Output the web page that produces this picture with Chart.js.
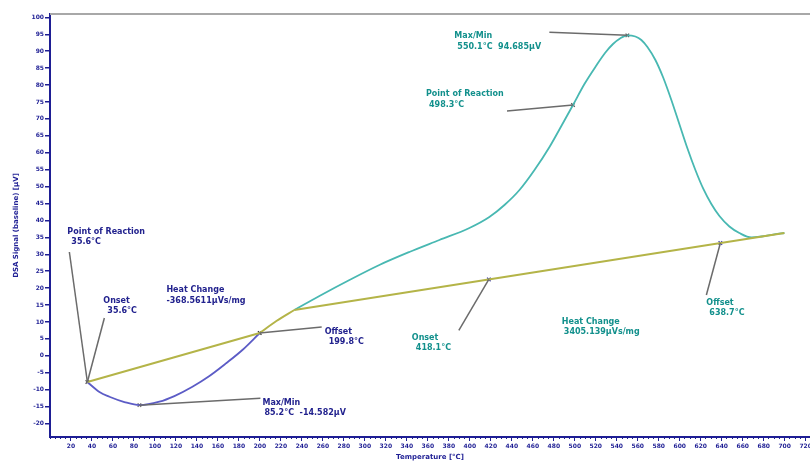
<!DOCTYPE html>
<html>
<head>
<meta charset="utf-8">
<script src="https://cdn.jsdelivr.net/npm/chart.js@4.4.1/dist/chart.umd.min.js"></script>
<style>
  html, body { margin: 0; padding: 0; background: #fff; overflow: hidden; width: 810px; height: 461px; }
  #wrap { position: absolute; left: 0; top: 0; width: 840px; height: 461px; }
</style>
</head>
<body>
<div id="wrap"><canvas id="c" width="840" height="461"></canvas></div>
<script>
// DSA run: temperature in °C, signal (baseline corrected) in µV

// endothermic dip (blue)
const blueT = [35.6, 47.1, 56.6, 70.9, 85.2, 104.2, 118.5, 135.7, 151.9, 167.8, 183.3, 199.8];
const blueV = [-7.75, -10.7, -12.1, -13.66, -14.582, -13.57, -11.9, -9.14, -5.97, -2.22, 1.71, 6.73];

// short bridge between the two events (olive)
const bridgeT = [199.8, 215.7, 232.8];
const bridgeV = [6.73, 10.28, 13.53];

// exothermic peak (teal)
const tealT = [232.8, 256.7, 285.3, 313.8, 342.4, 371.0, 399.6, 418.6, 433.0, 447.3, 461.6, 475.9,
               487.2, 498.3, 509.2, 520.2, 528.8, 536.4, 543.1, 550.1, 557.7, 563.4, 569.2, 576.8,
               584.4, 592.0, 599.6, 607.2, 614.9, 622.5, 630.1, 637.8, 647.3, 656.8, 668.3, 677.8,
               690.2, 699.7];
const tealV = [13.53, 17.67, 22.39, 26.83, 30.67, 34.21, 37.76, 41.01, 44.56, 48.99, 54.90, 61.70,
               67.90, 74.1, 80.31, 85.63, 89.48, 92.13, 93.76, 94.685, 94.35, 93.32, 91.25, 87.41,
               82.09, 75.59, 68.49, 61.40, 54.90, 49.29, 44.85, 41.31, 38.20, 36.28, 34.95, 35.25,
               35.9, 36.28];

// integration baselines
const base1T = [35.6, 199.8];
const base1V = [-7.75, 6.73];
const base2T = [232.8, 699.7];
const base2V = [13.53, 36.28];

// evaluated points: onset 1, min, offset 1, onset 2, point of reaction 2, max, offset 2
const markT = [35.6, 85.2, 199.8, 418.1, 498.3, 550.1, 638.7];
const markV = [-7.75, -14.582, 6.73, 22.56, 74.1, 94.685, 33.31];

// integrated heat changes (µVs/mg)
const heatChange = ['-368.5611', '3405.139'];

// axis ticks
const xTicks = [20, 40, 60, 80, 100, 120, 140, 160, 180, 200, 220, 240, 260, 280, 300, 320, 340, 360,
                380, 400, 420, 440, 460, 480, 500, 520, 540, 560, 580, 600, 620, 640, 660, 680, 700, 720];
const yTicks = [100, 95, 90, 85, 80, 75, 70, 65, 60, 55, 50, 45, 40, 35, 30, 25, 20, 15, 10, 5, 0,
                -5, -10, -15, -20];

const NAVY = '#1e1e94';
const BLUE_TXT = '#22228e';
const TEAL_TXT = '#12908c';
const pts = (xs, ys) => xs.map((v, i) => ({ x: v, y: ys[i] }));
const fT = v => v.toFixed(1) + '°C';

// annotation texts, anchored on the evaluated points; offsets in px
const notes = [
  { at: 0, color: BLUE_TXT, line: [-18, -130],
    text: [['Point of Reaction', -20, -150], [fT(markT[0]), -16, -140]] },
  { at: 0, color: BLUE_TXT, line: [17, -64],
    text: [['Onset', 16, -81], [fT(markT[0]), 20, -71]] },
  { at: 1, color: BLUE_TXT, line: null,
    text: [['Heat Change', 27, -115], [heatChange[0] + 'µVs/mg', 27, -104]] },
  { at: 2, color: BLUE_TXT, line: [62, -6],
    text: [['Offset', 65, -1], [fT(markT[2]), 69, 9]] },
  { at: 1, color: BLUE_TXT, line: [121, -7],
    text: [['Max/Min', 123, -2], [fT(markT[1]) + '  ' + markV[1].toFixed(3) + 'µV', 125, 8]] },
  { at: 5, color: TEAL_TXT, line: [-78, -3],
    text: [['Max/Min', -173, 1], [fT(markT[5]) + '  ' + markV[5].toFixed(3) + 'µV', -170, 12]] },
  { at: 4, color: TEAL_TXT, line: [-66, 6],
    text: [['Point of Reaction', -147, -11], [fT(markT[4]), -144, 0]] },
  { at: 3, color: TEAL_TXT, line: [-30, 51],
    text: [['Onset', -77, 58], [fT(markT[3]), -73, 68]] },
  { at: 3, color: TEAL_TXT, line: null,
    text: [['Heat Change', 73, 42], [heatChange[1] + 'µVs/mg', 75, 52]] },
  { at: 6, color: TEAL_TXT, line: [-14, 52],
    text: [['Offset', -14, 60], [fT(markT[6]), -11, 70]] }
];

const notePlugin = {
  id: 'notes',
  beforeDatasetsDraw(chart) {
    const { ctx, chartArea: a } = chart;
    ctx.save();
    ctx.strokeStyle = '#a8a8a8';
    ctx.lineWidth = 2;
    ctx.beginPath();
    ctx.moveTo(a.left, a.top);
    ctx.lineTo(a.right + 40, a.top);
    ctx.stroke();
    ctx.restore();
  },
  afterDatasetsDraw(chart) {
    const { ctx, scales: { x, y } } = chart;
    ctx.save();
    ctx.font = 'bold 8px "DejaVu Sans"';
    ctx.textAlign = 'left';
    ctx.textBaseline = 'middle';
    notes.forEach(n => {
      const px = x.getPixelForValue(markT[n.at]);
      const py = y.getPixelForValue(markV[n.at]);
      if (n.line) {
        ctx.strokeStyle = '#6b6b6b';
        ctx.lineWidth = 1.5;
        ctx.beginPath();
        ctx.moveTo(px, py);
        ctx.lineTo(px + n.line[0], py + n.line[1]);
        ctx.stroke();
      }
      ctx.fillStyle = n.color;
      n.text.forEach(([s, dx, dy]) => ctx.fillText(s, px + dx, py + dy));
    });
    ctx.restore();
  }
};

const lineDs = (data, color, width) => ({
  type: 'line', data, borderColor: color, borderWidth: width, pointRadius: 0,
  fill: false, cubicInterpolationMode: 'monotone'
});

new Chart(document.getElementById('c'), {
  type: 'line',
  data: {
    datasets: [
      lineDs(pts(base1T, base1V), '#b4b448', 2),
      lineDs(pts(base2T, base2V), '#b4b448', 2),
      lineDs(pts(blueT, blueV), '#5c5cc6', 1.8),
      lineDs(pts(bridgeT, bridgeV), '#b4b448', 2),
      lineDs(pts(tealT, tealV), '#48b8b2', 1.8),
      {
        type: 'scatter', data: pts(markT, markV), pointStyle: 'crossRot', pointRadius: 2.5,
        borderColor: ['#555', '#666', '#333', '#3a3aa8', '#555', '#555', '#3a3aa8'],
        borderWidth: 1.2, backgroundColor: '#3a3aa8'
      }
    ]
  },
  options: {
    responsive: false,
    animation: false,
    layout: { padding: { top: 14, right: 30, bottom: 0, left: 0 } },
    plugins: { legend: { display: false }, tooltip: { enabled: false } },
    scales: {
      x: {
        type: 'linear', position: 'bottom', min: 0, max: 724.1, weight: 1,
        afterBuildTicks: s => { s.ticks = xTicks.map(v => ({ value: v })); },
        afterFit: s => { s.height = 24; },
        border: { display: true, color: NAVY, width: 2 },
        grid: { drawOnChartArea: false, drawTicks: true, tickLength: 4, color: NAVY, lineWidth: 1 },
        ticks: { color: NAVY, font: { family: 'DejaVu Sans', size: 6, weight: 'bold' },
                 padding: 2, maxRotation: 0, autoSkip: false },
        title: { display: true, text: 'Temperature [°C]', color: NAVY,
                 font: { family: 'DejaVu Sans', size: 7, weight: 'bold' }, padding: { top: 0, bottom: 0 } }
      },
      xMinor: {
        type: 'linear', position: 'bottom', min: 0, max: 724.1, weight: 0,
        afterBuildTicks: s => { s.ticks = s.ticks.filter(t => t.value % 5 === 0); },
        afterFit: s => { s.height = 0; },
        border: { display: false },
        grid: { drawOnChartArea: false, drawTicks: true, tickLength: 2, color: NAVY, lineWidth: 1 },
        ticks: { display: false, stepSize: 5, autoSkip: false, includeBounds: false }
      },
      y: {
        type: 'linear', position: 'left', min: -24, max: 101,
        afterBuildTicks: s => { s.ticks = yTicks.map(v => ({ value: v })); },
        afterFit: s => { s.width = 50; },
        border: { display: true, color: NAVY, width: 2 },
        grid: { drawOnChartArea: false, drawTicks: true, tickLength: 5, color: NAVY, lineWidth: 1.5 },
        ticks: { color: NAVY, font: { family: 'DejaVu Sans', size: 6, weight: 'bold' },
                 padding: 1, autoSkip: false },
        title: { display: true, text: 'DSA Signal (baseline) [µV]', color: NAVY,
                 font: { family: 'DejaVu Sans', size: 7, weight: 'bold' }, padding: { top: 12, bottom: 0 } }
      }
    }
  },
  plugins: [notePlugin]
});
</script>
</body>
</html>
